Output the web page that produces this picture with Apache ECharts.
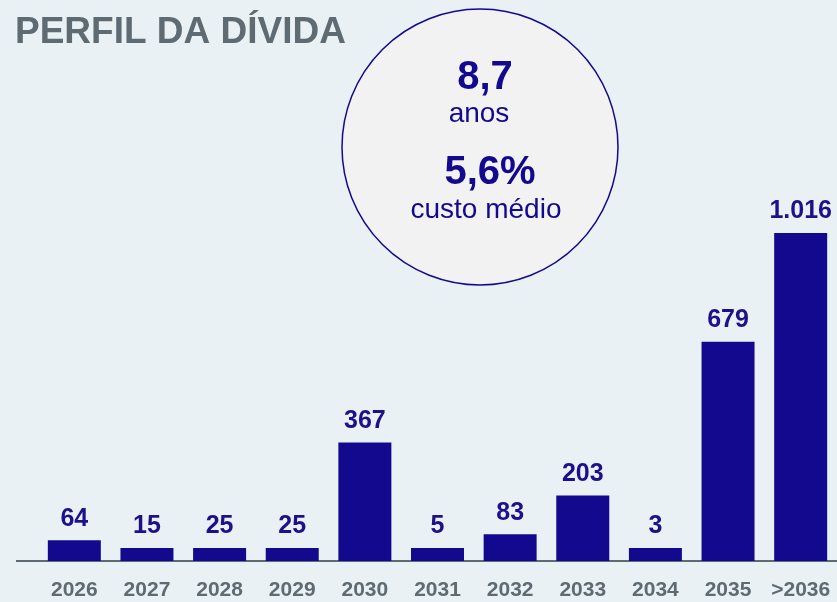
<!DOCTYPE html>
<html>
<head>
<meta charset="utf-8">
<script src="https://cdn.jsdelivr.net/npm/echarts@6/dist/echarts.min.js"></script>
<style>
  html, body { margin: 0; padding: 0; background: #eaf1f5; }
  #chart { width: 837px; height: 602px; }
</style>
</head>
<body>
<div id="chart"></div>
<script>
// maturity profile (R$ mi)
const years = ["2026", "2027", "2028", "2029", "2030", "2031", "2032", "2033", "2034", "2035", ">2036"];
const amounts = [64, 15, 25, 25, 367, 5, 83, 203, 3, 679, 1016];
const amountLabels = ["64", "15", "25", "25", "367", "5", "83", "203", "3", "679", "1.016"];

const navy = "#13098f";
const gray = "#5f6b73";
const font = "Liberation Sans, Arial, sans-serif";

const myChart = echarts.init(document.getElementById("chart"));

const option = {
  backgroundColor: "#eaf1f5",
  animation: false,
  grid: { left: 38, right: -1, top: 233, bottom: 41 },
  xAxis: {
    type: "category",
    data: years,
    axisLine: { show: true, lineStyle: { color: gray, width: 2 } },
    axisTick: { show: false },
    axisLabel: {
      margin: 19,
      color: gray,
      fontFamily: font,
      fontWeight: "bold",
      fontSize: 21,
      interval: 0,
    },
  },
  yAxis: {
    type: "value",
    min: 0,
    max: 1016,
    show: false,
    splitLine: { show: false },
  },
  series: [
    {
      type: "bar",
      data: amounts,
      barWidth: 53,
      barMinHeight: 13,
      itemStyle: { color: navy },
      label: {
        show: true,
        position: "top",
        distance: 9,
        color: "#1b1289",
        fontFamily: font,
        fontWeight: "bold",
        fontSize: 25,
        formatter: (p) => amountLabels[p.dataIndex],
      },
    },
  ],
  graphic: [
    // extend the base line to the left
    {
      type: "line",
      shape: { x1: 16, y1: 561, x2: 40, y2: 561 },
      style: { stroke: gray, lineWidth: 2 },
    },
    {
      type: "text",
      left: 15,
      top: 14,
      style: {
        text: "PERFIL DA DÍVIDA",
        fill: gray,
        font: "bold 37px " + font,
      },
    },
    {
      type: "circle",
      shape: { cx: 480, cy: 147, r: 138 },
      style: { fill: "#f2f2f2", stroke: navy, lineWidth: 1.5 },
    },
    {
      type: "text",
      x: 485,
      y: 78,
      style: { text: "8,7", fill: navy, font: "bold 40px " + font, align: "center", verticalAlign: "middle" },
    },
    {
      type: "text",
      x: 479,
      y: 114,
      style: { text: "anos", fill: navy, font: "28px " + font, align: "center", verticalAlign: "middle" },
    },
    {
      type: "text",
      x: 490,
      y: 173,
      style: { text: "5,6%", fill: navy, font: "bold 40px " + font, align: "center", verticalAlign: "middle" },
    },
    {
      type: "text",
      x: 486,
      y: 210,
      style: { text: "custo médio", fill: navy, font: "28px " + font, align: "center", verticalAlign: "middle" },
    },
  ],
};

myChart.setOption(option);
</script>
</body>
</html>
